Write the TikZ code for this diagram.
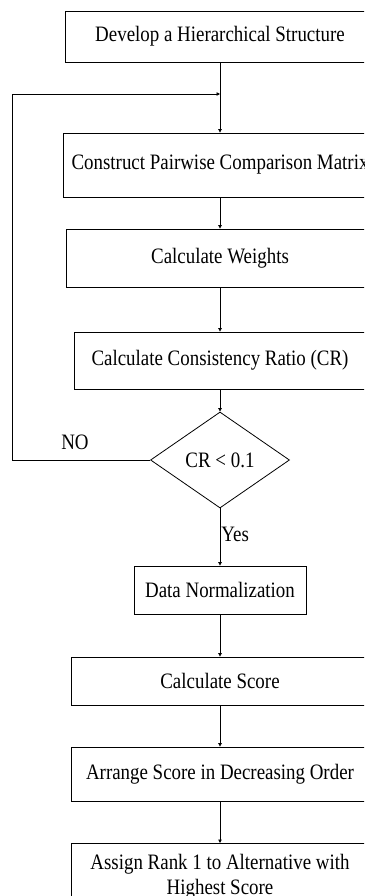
\documentclass[tikz,border=0pt]{standalone}
\usepackage{fontspec}
\setmainfont{Liberation Serif}[FakeStretch=0.86]
\usetikzlibrary{shapes.geometric, arrows.meta, positioning}
\tikzset{
  procbox/.style={draw, line width=0.8pt, inner sep=2pt, align=center,
    font=\fontsize{22}{25}\selectfont},
  decbox/.style={draw, diamond, aspect=1.45, line width=0.8pt, inner sep=0pt,
    minimum width=139pt, minimum height=96pt, font=\fontsize{22}{25}\selectfont},
  flow/.style={line width=0.8pt, -{Triangle[length=3.5pt,width=3.5pt]}},
  lbl/.style={font=\fontsize{22}{25}\selectfont, inner sep=1pt}
}
\begin{document}
\begin{tikzpicture}[x=1pt, y=-1pt]
        \useasboundingbox (0,0) rectangle (364,896);
        \clip (0,0) rectangle (364,896);

        % Process steps
        \node[procbox, minimum width=310pt, minimum height=51pt] (hier) at (220,36.5) {Develop a Hierarchical Structure};
        \node[procbox, minimum width=314pt, minimum height=64pt] (pair) at (220,165) {Construct Pairwise Comparison Matrix};
        \node[procbox, minimum width=308pt, minimum height=58pt] (wts) at (220,258) {Calculate Weights};
        \node[procbox, minimum width=292pt, minimum height=57pt] (ratio) at (220,360.5) {Calculate Consistency Ratio (CR)};
        \node[decbox] (check) at (220,460) {CR < 0.1};
        \node[procbox, minimum width=172pt, minimum height=48pt] (norm) at (220,590) {Data Normalization};
        \node[procbox, minimum width=298pt, minimum height=48pt] (score) at (220,681) {Calculate Score};
        \node[procbox, minimum width=298pt, minimum height=54pt] (order) at (220,774) {Arrange Score in Decreasing Order};
        \node[procbox, minimum width=298pt, minimum height=66pt, anchor=north] (rank) at (220,843) {Assign Rank 1 to Alternative with\\Highest Score};

        % Feedback loop
        \coordinate (loopL) at (12,460);
        \coordinate (join) at (220,94);

        % Connectors
        \draw[flow] (hier) -- (pair);
        \draw[flow] (pair) -- (wts);
        \draw[flow] (wts) -- (ratio);
        \draw[flow] (ratio) -- (check);
        \draw[flow] (check) -- node[lbl, right, pos=0.45] (yes) {Yes} (norm);
        \draw[flow] (norm) -- (score);
        \draw[flow] (score) -- (order);
        \draw[flow] (order) -- (rank);
        \draw[flow] (check.west) -- (loopL) |- (join);
        \node[lbl] (no) at (75,442) {NO};
\end{tikzpicture}
\end{document}
